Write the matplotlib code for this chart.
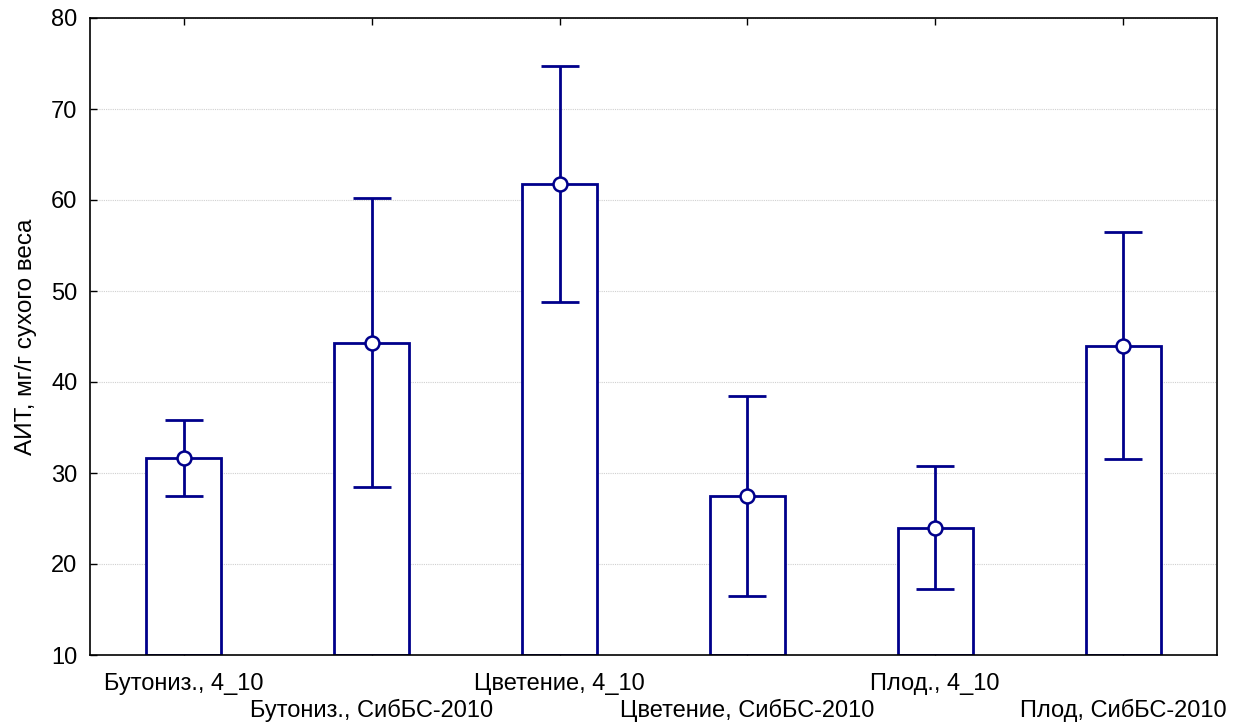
import matplotlib
matplotlib.use("Agg")
import matplotlib.pyplot as plt

labels = [
    "Бутониз., 4_10",
    "Бутониз., СибБС-2010",
    "Цветение, 4_10",
    "Цветение, СибБС-2010",
    "Плод., 4_10",
    "Плод, СибБС-2010",
]
means = [31.7, 44.3, 61.8, 27.5, 24.0, 44.0]
lower = [27.5, 28.5, 48.8, 16.5, 17.3, 31.5]
upper = [35.8, 60.2, 74.7, 38.5, 30.8, 56.5]
y_ticks = [10, 20, 30, 40, 50, 60, 70, 80]

navy = "#00008B"
plt.rcParams["font.family"] = ["Liberation Sans", "DejaVu Sans"]

fig = plt.figure(figsize=(12.47, 7.22), dpi=100)
ax = fig.add_axes([90 / 1247, 1 - 655 / 722, 1127 / 1247, 637 / 722])

x = list(range(len(means)))
ax.bar(x, [m - 10 for m in means], bottom=10, width=0.4,
       facecolor="white", edgecolor=navy, linewidth=2, zorder=2)
yerr = [[m - lo for m, lo in zip(means, lower)], [hi - m for m, hi in zip(means, upper)]]
ax.errorbar(x, means, yerr=yerr, fmt="none", ecolor=navy, elinewidth=2,
            capsize=13.5, capthick=2, zorder=3)
ax.plot(x, means, "o", markersize=10, markerfacecolor="white",
        markeredgecolor=navy, markeredgewidth=1.8, zorder=4)

ax.set_xlim(-0.5, len(means) - 0.5)
ax.set_ylim(10, 80)
ax.set_yticks(y_ticks)
ax.set_xticks(x)
ax.set_xticklabels([""] * len(x))
# staggered category labels
for i, lab in enumerate(labels):
    off = -29 if i % 2 == 0 else -55
    ax.annotate(lab, (i, 10), xycoords="data", xytext=(0, off),
                textcoords="offset pixels", ha="center", va="center",
                fontsize=17)

ax.grid(axis="y", color="#d0d0d0", linestyle=(0, (1, 1)), linewidth=0.8)
ax.set_axisbelow(True)
ax.tick_params(direction="in", top=True, right=False, length=5, width=1,
               labelsize=17)
ax.tick_params(axis="y", pad=9)
for s in ax.spines.values():
    s.set_linewidth(1.2)
ax.set_ylabel("АИТ, мг/г сухого веса", fontsize=17.5)
ax.yaxis.set_label_coords(-53 / 1127, 0.5)

fig.savefig("out.png", dpi=100)
